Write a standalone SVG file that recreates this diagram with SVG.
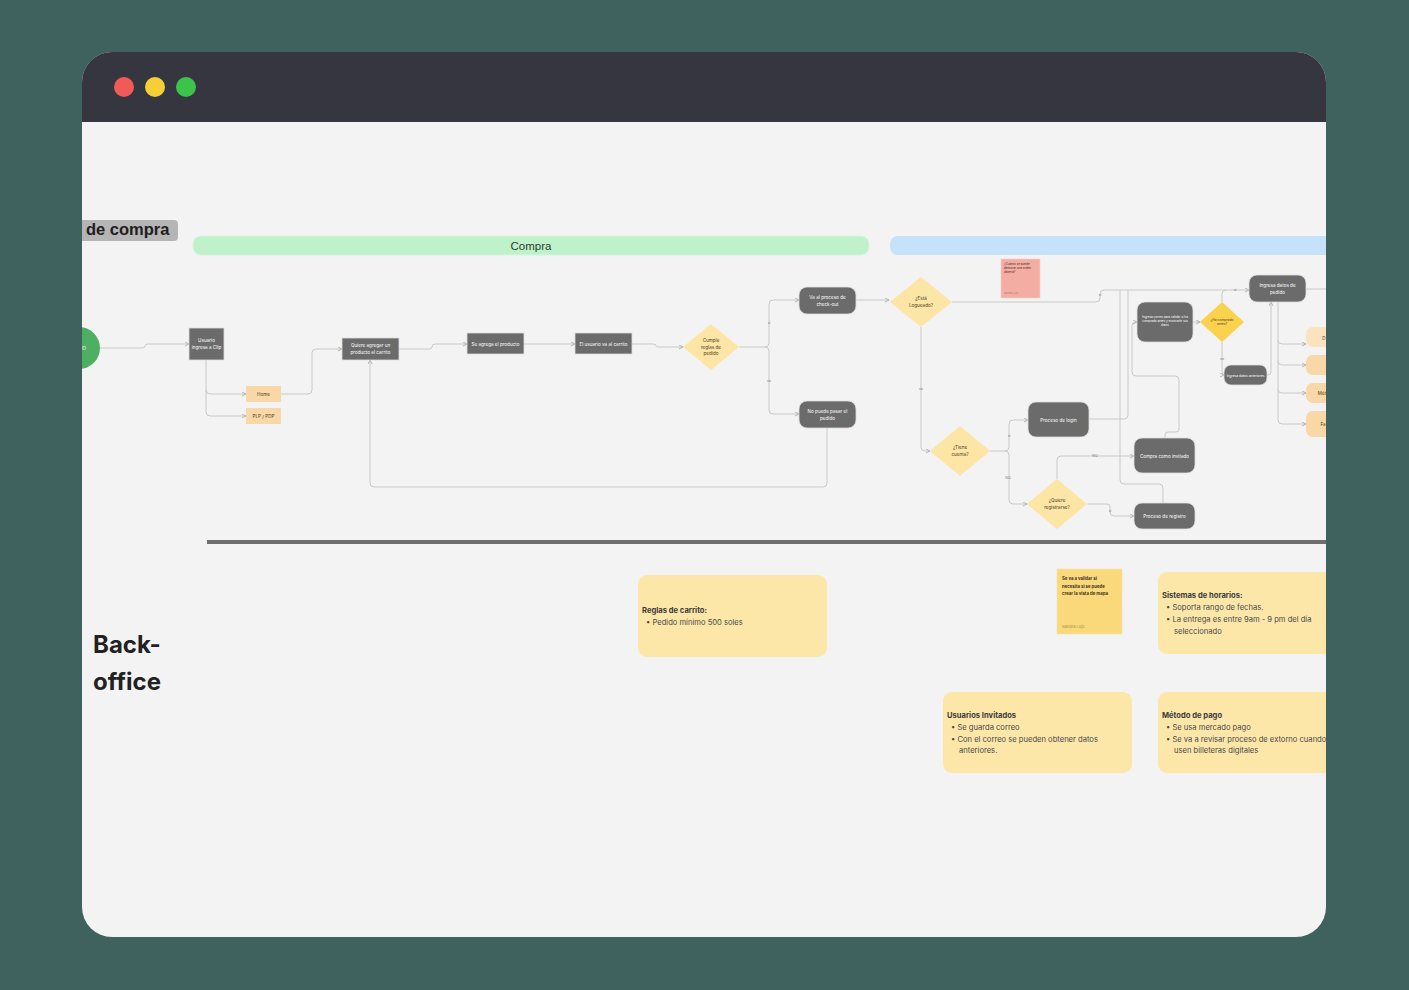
<svg xmlns="http://www.w3.org/2000/svg" width="1409" height="990" viewBox="0 0 1409 990">
<defs>
<clipPath id="win"><rect x="82" y="52" width="1244" height="885" rx="30"/></clipPath>
<marker id="ar" viewBox="0 0 6 6" refX="5" refY="3" markerWidth="5" markerHeight="5" orient="auto"><path d="M0,0.5 L5,3 L0,5.5" fill="none" stroke="#AAAAAA" stroke-width="1"/></marker>
<style>
.g{fill:#6B6B6B;stroke:#DDDDDD;stroke-width:0.8}
.o{fill:#F9D7A6}
.d{fill:#FCE5A5}
.t{font-family:Inter,"Liberation Sans",sans-serif;font-size:4.6px;fill:#FFFFFF;text-anchor:middle}
.td{font-family:Inter,"Liberation Sans",sans-serif;font-size:4.6px;fill:#4A3E1C;text-anchor:middle}
.ts{font-family:Inter,"Liberation Sans",sans-serif;font-size:6px;fill:#FFFFFF;text-anchor:middle}
.tds{font-family:Inter,"Liberation Sans",sans-serif;font-size:6px;fill:#4A3E1C;text-anchor:middle}
.c{fill:none;stroke:#C9C9C9;stroke-width:1}
.ca{fill:none;stroke:#C9C9C9;stroke-width:1;marker-end:url(#ar)}
.lb{font-family:Inter,"Liberation Sans",sans-serif;font-size:3.5px;fill:#777777;text-anchor:middle}
.note{fill:#FCE7A9}
.nh{font-family:Inter,"Liberation Sans",sans-serif;font-size:7.6px;font-weight:bold;fill:#3A3A3A}
.nt{font-family:Inter,"Liberation Sans",sans-serif;font-size:7.6px;fill:#4A4A4A}
</style>
</defs>
<rect x="0" y="0" width="1409" height="990" fill="#3F625F"/>
<g clip-path="url(#win)">
<rect x="82" y="52" width="1244" height="885" fill="#F3F3F3"/>
<rect x="82" y="52" width="1244" height="70" fill="#363640"/>
<circle cx="124" cy="87" r="10" fill="#F25A57"/>
<circle cx="155" cy="87" r="10" fill="#F6CE35"/>
<circle cx="186" cy="87" r="10" fill="#3CC34A"/>

<g id="lane-title">
<path d="M60,220 H174 Q178,220 178,224 V237 Q178,241 174,241 H60 Z" fill="#B5B5B5"/>
<text x="86" y="235" font-family="Liberation Sans,Arial,sans-serif" font-size="16.5" font-weight="bold" fill="#1E1E1E">de compra</text>
</g>
<g id="bar-compra">
<rect x="193" y="236" width="676" height="19" rx="8" fill="#BFF2CA" stroke="#D6F7DC" stroke-width="1"/>
<text x="531" y="249.5" font-family="Liberation Sans,Arial,sans-serif" font-size="11.5" fill="#2B3A2E" text-anchor="middle">Compra</text>
</g>
<g id="bar-blue"><rect x="890" y="236" width="470" height="19" rx="8" fill="#C5E2FA"/></g>

<g id="connectors">
<path class="ca" d="M100,348 H142 Q145,348 145,346 V346 Q145,344 148,344 H189"/>
<path class="ca" d="M206,360 V390 Q206,394 210,394 H246"/>
<path class="ca" d="M206,390 V412 Q206,416 210,416 H246"/>
<path class="ca" d="M281,394 H308 Q312,394 312,390 V353 Q312,349 316,349 H342"/>
<path class="ca" d="M827,428 V483 Q827,487 823,487 H374 Q370,487 370,483 V360"/>
<path class="ca" d="M399,349 H429 Q432,349 432,347 Q432,344 435,344 H467"/>
<path class="ca" d="M524,344 H575"/>
<path class="ca" d="M632,344 H653 Q656,344 656,346 Q656,347 659,347 H683"/>
<path class="ca" d="M739,347 H765 Q769,347 769,343 V304 Q769,300 773,300 H799"/>
<path class="ca" d="M765,347 Q769,347 769,351 V410 Q769,414 773,414 H799"/>
<text class="lb" x="769" y="324">si</text>
<text class="lb" x="769" y="382">no</text>
<path class="ca" d="M856,300 H889"/>
<path class="ca" d="M952,302 H1096 Q1100,302 1100,298 V294 Q1100,290 1104,290 H1249"/>
<text class="lb" x="1100" y="296">si</text>
<path class="ca" d="M921,327 V447 Q921,451 925,451 H930"/>
<text class="lb" x="921" y="390">no</text>
<path class="ca" d="M990,451 H1005 Q1009,451 1009,447 V424 Q1009,420 1013,420 H1028"/>
<text class="lb" x="1009" y="437">si</text>
<path class="ca" d="M1005,451 Q1009,451 1009,455 V500 Q1009,504 1013,504 H1027"/>
<text class="lb" x="1008" y="479">NO</text>
<path class="ca" d="M1057,479 V460 Q1057,456 1061,456 H1134"/>
<text class="lb" x="1095" y="457">NO</text>
<path class="ca" d="M1087,504 H1107 Q1110,504 1110,507 V512 Q1110,516 1114,516 H1134"/>
<text class="lb" x="1110" y="512">si</text>
<path class="c" d="M1089,419 H1124 Q1128,419 1128,415 V290"/>
<path class="c" d="M1163,503 V488 Q1163,484 1159,484 H1124 Q1120,484 1120,480 V290"/>
<path class="ca" d="M1165,438 V435 Q1165,432 1168,432 H1176 Q1179,432 1179,429 V380 Q1179,376 1175,376 H1136 Q1132,376 1132,372 V326 Q1132,322 1136,322 H1137"/>
<path class="ca" d="M1193,322 H1200"/>
<path class="c" d="M1222,302 V294 Q1222,290 1226,290"/>
<text class="lb" x="1235" y="291">si</text>
<path class="ca" d="M1222,342 V371 Q1222,375 1224,375"/>
<text class="lb" x="1222" y="360">no</text>
<path class="ca" d="M1267,375 H1268 Q1271,375 1271,372 V302"/>
<path class="c" d="M1306,289 H1340"/>
<path class="ca" d="M1278,302 V340 Q1278,344 1282,344 H1306"/>
<path class="ca" d="M1278,340 V361 Q1278,365 1282,365 H1306"/>
<path class="ca" d="M1278,361 V389 Q1278,393 1282,393 H1306"/>
<path class="ca" d="M1278,389 V420 Q1278,424 1282,424 H1306"/>
</g>

<g id="n-start"><circle cx="79" cy="348" r="21" fill="#4CAF62"/><text class="t" x="79" y="350" font-size="5.5">INICIO</text></g>
<g id="n-usuario"><rect class="g" x="189" y="328" width="35" height="32"/><text class="t" x="206.5" y="342">Usuario</text><text class="t" x="206.5" y="349">ingresa a Clip</text></g>
<g id="n-home"><rect class="o" x="246" y="386" width="35" height="16"/><text class="td" x="263.5" y="395.5">Home</text></g>
<g id="n-plp"><rect class="o" x="246" y="408" width="35" height="16"/><text class="td" x="263.5" y="417.5">PLP / PDP</text></g>
<g id="n-quiere"><rect class="g" x="342" y="338" width="57" height="22"/><text class="t" x="370.5" y="347">Quiere agregar un</text><text class="t" x="370.5" y="354">producto al carrito</text></g>
<g id="n-agrega"><rect class="g" x="467" y="333" width="57" height="21"/><text class="t" x="495.5" y="345.5">Se agrega el producto</text></g>
<g id="n-carrito"><rect class="g" x="575" y="333" width="57" height="21"/><text class="t" x="603.5" y="345.5">El usuario va al carrito</text></g>
<g id="n-cumple"><polygon class="d" points="711,324 739,347 711,370 683,347"/><text class="td" x="711" y="342">Cumple</text><text class="td" x="711" y="348.5">reglas de</text><text class="td" x="711" y="355">pedido</text></g>
<g id="n-checkout"><rect class="g" x="799" y="287" width="57" height="27" rx="8"/><text class="t" x="827.5" y="298.5">Va al proceso de</text><text class="t" x="827.5" y="305.5">check-out</text></g>
<g id="n-nopuede"><rect class="g" x="799" y="401" width="57" height="27" rx="8"/><text class="t" x="827.5" y="412.5">No puede pasar el</text><text class="t" x="827.5" y="419.5">pedido</text></g>
<g id="n-logueado"><polygon class="d" points="921,277 952,302 921,327 890,302"/><text class="td" x="921" y="300">¿Está</text><text class="td" x="921" y="307">Logueado?</text></g>
<g id="n-sticky-pink"><rect x="1001" y="259" width="39" height="39" fill="#F4ADA3" stroke="#F8CFC9" stroke-width="0.6"/><g transform="translate(1004,265) scale(0.5)"><text font-family="Inter,Liberation Sans,sans-serif" font-size="6" fill="#4A2A25"><tspan x="0" y="0">¿Cuánto se puede</tspan><tspan x="0" y="8">demorar una orden</tspan><tspan x="0" y="16">abierta?</tspan></text><text x="0" y="58" font-family="Inter,Liberation Sans,sans-serif" font-size="5" fill="#B07A72">Sandra Lujo</text></g></g>
<g id="n-tiene"><polygon class="d" points="960,426 990,451 960,476 930,451"/><text class="td" x="960" y="449">¿Tiene</text><text class="td" x="960" y="456">cuenta?</text></g>
<g id="n-login"><rect class="g" x="1028" y="402" width="61" height="35" rx="8"/><text class="t" x="1058.5" y="421.5">Proceso de login</text></g>
<g id="n-registrarse"><polygon class="d" points="1057,479 1087,504 1057,529 1027,504"/><text class="td" x="1057" y="502">¿Quiere</text><text class="td" x="1057" y="509">registrarse?</text></g>
<g id="n-invitado"><rect class="g" x="1134" y="438" width="61" height="35" rx="8"/><text class="t" x="1164.5" y="457.5">Compra como invitado</text></g>
<g id="n-registro"><rect class="g" x="1134" y="503" width="61" height="26" rx="8"/><text class="t" x="1164.5" y="517.5">Proceso de registro</text></g>
<g id="n-correo"><rect class="g" x="1137" y="302" width="56" height="40" rx="8"/><g transform="translate(1165,318) scale(0.5)"><text class="ts"><tspan x="0" y="0">Ingresa correo para validar si ha</tspan><tspan x="0" y="8">comprado antes y mostrarle sus</tspan><tspan x="0" y="16">datos</tspan></text></g></g>
<g id="n-hacomprado"><polygon points="1222,302 1244,322 1222,342 1200,322" fill="#FBD24E"/><g transform="translate(1222,321) scale(0.55)"><text class="tds"><tspan x="0" y="0">¿Ha comprado</tspan><tspan x="0" y="8">antes?</tspan></text></g></g>
<g id="n-anteriores"><rect class="g" x="1224" y="365" width="43" height="20" rx="7"/><g transform="translate(1245.5,376.5) scale(0.55)"><text class="ts" x="0" y="0">Ingresa datos anteriores</text></g></g>
<g id="n-datospedido"><rect class="g" x="1249" y="275" width="57" height="27" rx="8"/><text class="t" x="1277.5" y="286.5">Ingresa datos de</text><text class="t" x="1277.5" y="293.5">pedido</text></g>
<g id="n-o1"><rect x="1306" y="327" width="60" height="20" rx="7" fill="#FCE3C0"/><text class="td" x="1324" y="339.5">D</text></g>
<g id="n-o2"><rect x="1306" y="355" width="60" height="20" rx="7" fill="#F9D7A6"/></g>
<g id="n-o3"><rect x="1306" y="383" width="60" height="20" rx="7" fill="#F9D7A6"/><text class="td" x="1322" y="395">Mét</text></g>
<g id="n-o4"><rect x="1306" y="411" width="60" height="26" rx="7" fill="#F9D7A6"/><text class="td" x="1323" y="426">Fa</text></g>

<rect x="207" y="540" width="1130" height="4" fill="#6E6E6E"/>

<g id="backoffice"><text font-family="Inter,Liberation Sans,sans-serif" font-size="24" font-weight="bold" fill="#222222"><tspan x="93" y="653">Back-</tspan><tspan x="93" y="690">office</tspan></text></g>

<g id="note-carrito"><rect class="note" x="638" y="575" width="189" height="82" rx="9"/><text class="nh" x="642" y="613">Reglas de carrito:</text><text class="nt" x="646" y="625">•  Pedido mínimo 500 soles</text></g>
<g id="sticky-mapa"><rect x="1057" y="569" width="65" height="65" fill="#FAD97A" stroke="#F2E3B0" stroke-width="0.6"/><text font-family="Inter,Liberation Sans,sans-serif" font-size="4.3" font-weight="bold" fill="#3A3220"><tspan x="1062" y="580">Se va a validar si</tspan><tspan x="1062" y="587.5">necesita si se puede</tspan><tspan x="1062" y="595">crear la vista de mapa</tspan></text><text x="1062" y="628" font-family="Inter,Liberation Sans,sans-serif" font-size="4" fill="#A8914F">Sandra Lujo</text></g>
<g id="note-horarios"><rect class="note" x="1158" y="572" width="190" height="82" rx="9"/><text class="nh" x="1162" y="598">Sistemas de horarios:</text><text class="nt" x="1166" y="610">•  Soporta rango de fechas.</text><text class="nt" x="1166" y="622">•  La entrega es entre 9am - 9 pm del día</text><text class="nt" x="1174" y="634">seleccionado</text></g>
<g id="note-invitados"><rect class="note" x="943" y="692" width="189" height="81" rx="9"/><text class="nh" x="947" y="718">Usuarios Invitados</text><text class="nt" x="951" y="730">•  Se guarda correo</text><text class="nt" x="951" y="742">•  Con el correo se pueden obtener datos</text><text class="nt" x="959" y="753">anteriores.</text></g>
<g id="note-pago"><rect class="note" x="1158" y="692" width="190" height="81" rx="9"/><text class="nh" x="1162" y="718">Método de pago</text><text class="nt" x="1166" y="730">•  Se usa mercado pago</text><text class="nt" x="1166" y="742">•  Se va a revisar proceso de extorno cuando</text><text class="nt" x="1174" y="753">usen billeteras digitales</text></g>
</g>
</svg>
